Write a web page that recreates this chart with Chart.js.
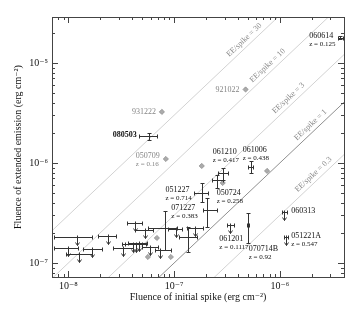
<!DOCTYPE html>
<html><head><meta charset="utf-8">
<script src="https://cdn.jsdelivr.net/npm/chart.js@4/dist/chart.umd.min.js"></script>
<style>html,body{margin:0;padding:0;background:#fff}</style>
</head><body>
<canvas id="c" width="360" height="312"></canvas>
<script>
// ---------------- data ----------------
const xRange = [7.02e-9, 4.04e-6];
const yRange = [7.24e-8, 2.88e-5];
const xTickDecades = [1e-8, 1e-7, 1e-6];
const xTickLabels = ['10\u207B\u2078', '10\u207B\u2077', '10\u207B\u2076'];
const yTickDecades = [1e-7, 1e-6, 1e-5];
const yTickLabels = ['10\u207B\u2077', '10\u207B\u2076', '10\u207B\u2075'];

const ratioValues = [30, 10, 3, 1, 0.3];
const ratioLabels = ['EE/spike = 30', 'EE/spike = 10', 'EE/spike = 3', 'EE/spike = 1', 'EE/spike = 0.3'];
const ratioLabelAtX = [5.07e-7, 8.44e-7, 1.33e-6, 2.15e-6, 2.29e-6];

// detections with error bars (spike fluence x, EE fluence y)
const detX   = [3.74e-6, 5.77e-8, 2.88e-7, 2.53e-7, 5.29e-7, 1.825e-7, 2.03e-7, 4.96e-7, 8.19e-8, 1.346e-7];
const detXLo = [3.55e-6, 4.64e-8, 2.58e-7, 2.27e-7, 4.96e-7, 1.534e-7, 1.866e-7, 4.85e-7, 5.65e-8, 1.107e-7];
const detXHi = [3.95e-6, 6.87e-8, 3.21e-7, 2.88e-7, 5.53e-7, 2.08e-7, 2.53e-7, 5.08e-7, 1.06e-7, 1.638e-7];
const detY   = [1.78e-5, 1.86e-6, 7.94e-7, 6.76e-7, 9.12e-7, 5.01e-7, 3.39e-7, 2.40e-7, 2.24e-7, 1.82e-7];
const detYLo = [1.72e-5, 1.70e-6, 6.76e-7, 5.62e-7, 7.94e-7, 4.07e-7, 2.29e-7, 1.585e-7, 1.35e-7, 1.288e-7];
const detYHi = [1.84e-5, 2.00e-6, 8.91e-7, 7.59e-7, 1.047e-6, 6.31e-7, 4.47e-7, 3.16e-7, 3.31e-7, 2.29e-7];

// upper limits on EE fluence
const ulX   = [1.098e-6, 1.147e-6, 3.40e-7, 4.26e-8, 5.29e-8, 1.208e-8, 2.37e-8, 9.94e-9, 1.262e-8, 1.674e-8, 3.28e-8, 4.08e-8, 4.35e-8, 4.64e-8, 5.90e-8, 7.33e-8, 1.038e-7, 1.568e-7];
const ulXLo = [1.051e-6, 1.10e-6, 3.14e-7, 3.58e-8, 4.26e-8, 7.33e-9, 1.906e-8, 7.33e-9, 9.51e-9, 1.376e-8, 2.64e-8, 3.21e-8, 3.43e-8, 3.66e-8, 4.96e-8, 6.58e-8, 8.72e-8, 1.318e-7];
const ulXHi = [1.172e-6, 1.20e-6, 3.66e-7, 4.96e-8, 6.30e-8, 1.674e-8, 2.82e-8, 1.234e-8, 1.674e-8, 2.08e-8, 4.08e-8, 5.41e-8, 4.96e-8, 5.53e-8, 7.02e-8, 9.31e-8, 1.182e-7, 1.866e-7];
const ulY   = [3.24e-7, 1.82e-7, 2.40e-7, 2.51e-7, 2.14e-7, 1.82e-7, 1.86e-7, 1.41e-7, 1.23e-7, 1.38e-7, 1.41e-7, 1.55e-7, 1.55e-7, 1.58e-7, 1.445e-7, 1.35e-7, 2.19e-7, 2.24e-7];

// BATSE-type bursts (grey diamonds)
const batseX = [7.66e-8, 4.74e-7, 8.35e-8, 1.825e-7, 7.57e-7, 2.88e-7, 6.87e-8, 5.65e-8, 9.31e-8];
const batseY = [3.24e-6, 5.43e-6, 1.096e-6, 9.33e-7, 8.32e-7, 6.31e-7, 1.778e-7, 1.148e-7, 1.148e-7];

// burst name labels: text lines, anchored at a burst
const labelLines = [
  ['060614', 'z = 0.125'], ['931222'], ['080503'], ['921022'], ['050709', 'z = 0.16'],
  ['061210', 'z = 0.417'], ['061006', 'z = 0.438'], ['051227', 'z = 0.714'], ['050724', 'z = 0.258'],
  ['071227', 'z = 0.383'], ['061201', 'z = 0.1117'], ['070714B', 'z = 0.92'], ['060313'], ['051221A', 'z = 0.547']
];
const labelAtX = [3.74e-6, 7.66e-8, 5.77e-8, 4.74e-7, 8.35e-8, 2.88e-7, 5.29e-7, 1.825e-7, 2.53e-7, 2.03e-7, 3.40e-7, 4.96e-7, 1.098e-6, 1.147e-6];
const labelAtY = [1.78e-5, 3.24e-6, 1.86e-6, 5.43e-6, 1.096e-6, 7.94e-7, 9.12e-7, 5.01e-7, 6.76e-7, 3.39e-7, 2.40e-7, 2.40e-7, 3.24e-7, 1.82e-7];

// ---------------- presentation ----------------
const FONT = "'Liberation Serif', 'DejaVu Serif', serif";
const labelStyle = [
  {dx:-5, dy:-2, align:'right'}, {dx:-6, dy:0, align:'right', grey:true}, {dx:-12, dy:-1, align:'right', bold:true},
  {dx:-6, dy:0, align:'right', grey:true}, {dx:-6, dy:-3, align:'right', grey:true},
  {dx:-10, dy:-21, align:'left'}, {dx:-8, dy:-17, align:'left'}, {dx:-10, dy:-3, align:'right'},
  {dx:0, dy:13, align:'left'}, {dx:-9, dy:-2, align:'right'}, {dx:-11, dy:14, align:'left'},
  {dx:1, dy:24, align:'left'}, {dx:7, dy:-1, align:'left'}, {dx:5, dy:-1, align:'left'}
];

function tickLabel(decades, labels) {
  return function (v) {
    for (let i = 0; i < decades.length; i++) {
      if (Math.abs(Math.log10(v) - Math.log10(decades[i])) < 1e-6) return labels[i];
    }
    return '';
  };
}

function seg(ctx, x1, y1, x2, y2) {
  ctx.beginPath(); ctx.moveTo(x1, y1); ctx.lineTo(x2, y2); ctx.stroke();
}
const snap = v => Math.round(v) + 0.5;

const drawPlugin = {
  id: 'draw',
  afterDatasetsDraw(chart) {
    const {ctx, chartArea: a, scales: {x, y}} = chart;
    ctx.save();
    // ratio line labels
    ctx.fillStyle = '#8a8a8a';
    ctx.font = '8px ' + FONT;
    ctx.textAlign = 'center'; ctx.textBaseline = 'middle';
    ratioValues.forEach((r, i) => {
      const xv = ratioLabelAtX[i];
      const px = x.getPixelForValue(xv), py = y.getPixelForValue(r * xv);
      const px2 = x.getPixelForValue(xv * 10), py2 = y.getPixelForValue(r * xv * 10);
      const ang = Math.atan2(py2 - py, px2 - px);
      const off = 6.5;
      const cx = px + off * Math.sin(ang), cy = py - off * Math.cos(ang);
      ctx.save(); ctx.translate(cx, cy); ctx.rotate(ang);
      ctx.fillText(ratioLabels[i], 0, 0); ctx.restore();
    });

    // error bars
    ctx.strokeStyle = '#333'; ctx.lineWidth = 1;
    const cap = 2;
    detX.forEach((xv, i) => {
      const cx = snap(x.getPixelForValue(xv)), cy = snap(y.getPixelForValue(detY[i]));
      const x1 = snap(x.getPixelForValue(detXLo[i])), x2 = snap(x.getPixelForValue(detXHi[i]));
      const y1 = snap(y.getPixelForValue(detYLo[i])), y2 = snap(y.getPixelForValue(detYHi[i]));
      seg(ctx, x1, cy, x2, cy); seg(ctx, x1, cy - cap, x1, cy + cap); seg(ctx, x2, cy - cap, x2, cy + cap);
      seg(ctx, cx, y1, cx, y2); seg(ctx, cx - cap, y1, cx + cap, y1); seg(ctx, cx - cap, y2, cx + cap, y2);
    });
    // upper limits
    ulX.forEach((xv, i) => {
      const cx = snap(x.getPixelForValue(xv)), cy = snap(y.getPixelForValue(ulY[i]));
      const x1 = snap(x.getPixelForValue(ulXLo[i])), x2 = snap(x.getPixelForValue(ulXHi[i]));
      seg(ctx, x1, cy, x2, cy); seg(ctx, x1, cy - cap, x1, cy + cap); seg(ctx, x2, cy - cap, x2, cy + cap);
      seg(ctx, cx, cy - 2, cx, cy + 8);
      ctx.beginPath(); ctx.moveTo(cx - 2, cy + 5); ctx.lineTo(cx, cy + 8); ctx.lineTo(cx + 2, cy + 5); ctx.stroke();
    });

    // burst labels
    ctx.textBaseline = 'middle'; ctx.textAlign = 'left';
    labelLines.forEach((lines, i) => {
      const st = labelStyle[i];
      const px = x.getPixelForValue(labelAtX[i]) + st.dx, py = y.getPixelForValue(labelAtY[i]) + st.dy;
      const fonts = lines.map((t, k) => (k === 0 ? (st.bold ? 'bold 8px ' : '8px ') : '7px ') + FONT);
      let w = 0;
      lines.forEach((t, k) => { ctx.font = fonts[k]; w = Math.max(w, ctx.measureText(t).width); });
      const left = st.align === 'right' ? px - w : px;
      ctx.fillStyle = st.grey ? '#858585' : '#111';
      lines.forEach((t, k) => { ctx.font = fonts[k]; ctx.fillText(t, left, py + k * 8); });
    });

    // frame and inward ticks
    ctx.strokeStyle = '#444'; ctx.lineWidth = 1;
    ctx.strokeRect(snap(a.left), snap(a.top), Math.round(a.right - a.left), Math.round(a.bottom - a.top));
    const minorTicks = (lo, hi) => {
      const out = [];
      for (let e = Math.floor(Math.log10(lo)); e <= Math.ceil(Math.log10(hi)); e++) {
        for (let m = 1; m <= 9; m++) {
          const v = m * Math.pow(10, e);
          if (v >= lo && v <= hi) out.push([v, m === 1]);
        }
      }
      return out;
    };
    minorTicks(xRange[0], xRange[1]).forEach(([v, major]) => {
      const px = snap(x.getPixelForValue(v)), L = major ? 6 : 3;
      seg(ctx, px, a.bottom, px, a.bottom - L); seg(ctx, px, a.top, px, a.top + L);
    });
    minorTicks(yRange[0], yRange[1]).forEach(([v, major]) => {
      const py = snap(y.getPixelForValue(v)), L = major ? 6 : 3;
      seg(ctx, a.left, py, a.left + L, py); seg(ctx, a.right, py, a.right - L, py);
    });
    ctx.restore();
  }
};

const lineSets = ratioValues.map(r => ({
  type: 'line',
  data: [{x: xRange[0], y: r * xRange[0]}, {x: xRange[1], y: r * xRange[1]}],
  borderColor: r === 1 ? '#8f8f8f' : '#d2d2d2',
  borderWidth: 1, pointRadius: 0, fill: false, tension: 0
}));

new Chart(document.getElementById('c'), {
  type: 'scatter',
  data: {
    datasets: [
      ...lineSets,
      {
        data: batseX.map((v, i) => ({x: v, y: batseY[i]})),
        pointStyle: 'rectRot', pointRadius: 2.6, backgroundColor: '#ababab', borderColor: '#8e8e8e', borderWidth: 0.8
      },
      {data: detX.map((v, i) => ({x: v, y: detY[i]})), pointRadius: 0},
      {data: ulX.map((v, i) => ({x: v, y: ulY[i]})), pointRadius: 0}
    ]
  },
  options: {
    responsive: false, animation: false, devicePixelRatio: 1,
    layout: {padding: {top: 17, right: 16, left: 0, bottom: 0}},
    plugins: {legend: {display: false}, tooltip: {enabled: false}},
    scales: {
      x: {
        type: 'logarithmic', min: xRange[0], max: xRange[1],
        grid: {display: false, drawTicks: false}, border: {display: false},
        ticks: {autoSkip: false, maxRotation: 0, padding: 3, color: '#111', font: {family: FONT, size: 10}, callback: tickLabel(xTickDecades, xTickLabels)},
        title: {display: true, text: 'Fluence of initial spike (erg cm\u207B\u00B2)', color: '#111', font: {family: FONT, size: 10}, padding: {top: 0, bottom: 9}},
        afterFit(s) { s.height = 35; }
      },
      y: {
        type: 'logarithmic', min: yRange[0], max: yRange[1],
        grid: {display: false, drawTicks: false}, border: {display: false},
        ticks: {autoSkip: false, padding: 4, color: '#111', font: {family: FONT, size: 10}, callback: tickLabel(yTickDecades, yTickLabels)},
        title: {display: true, text: 'Fluence of extended emission (erg cm\u207B\u00B2)', color: '#111', font: {family: FONT, size: 10}, padding: {top: 12, bottom: 0}},
        afterFit(s) { s.width = 52; }
      }
    }
  },
  plugins: [drawPlugin]
});
</script>
</body></html>
